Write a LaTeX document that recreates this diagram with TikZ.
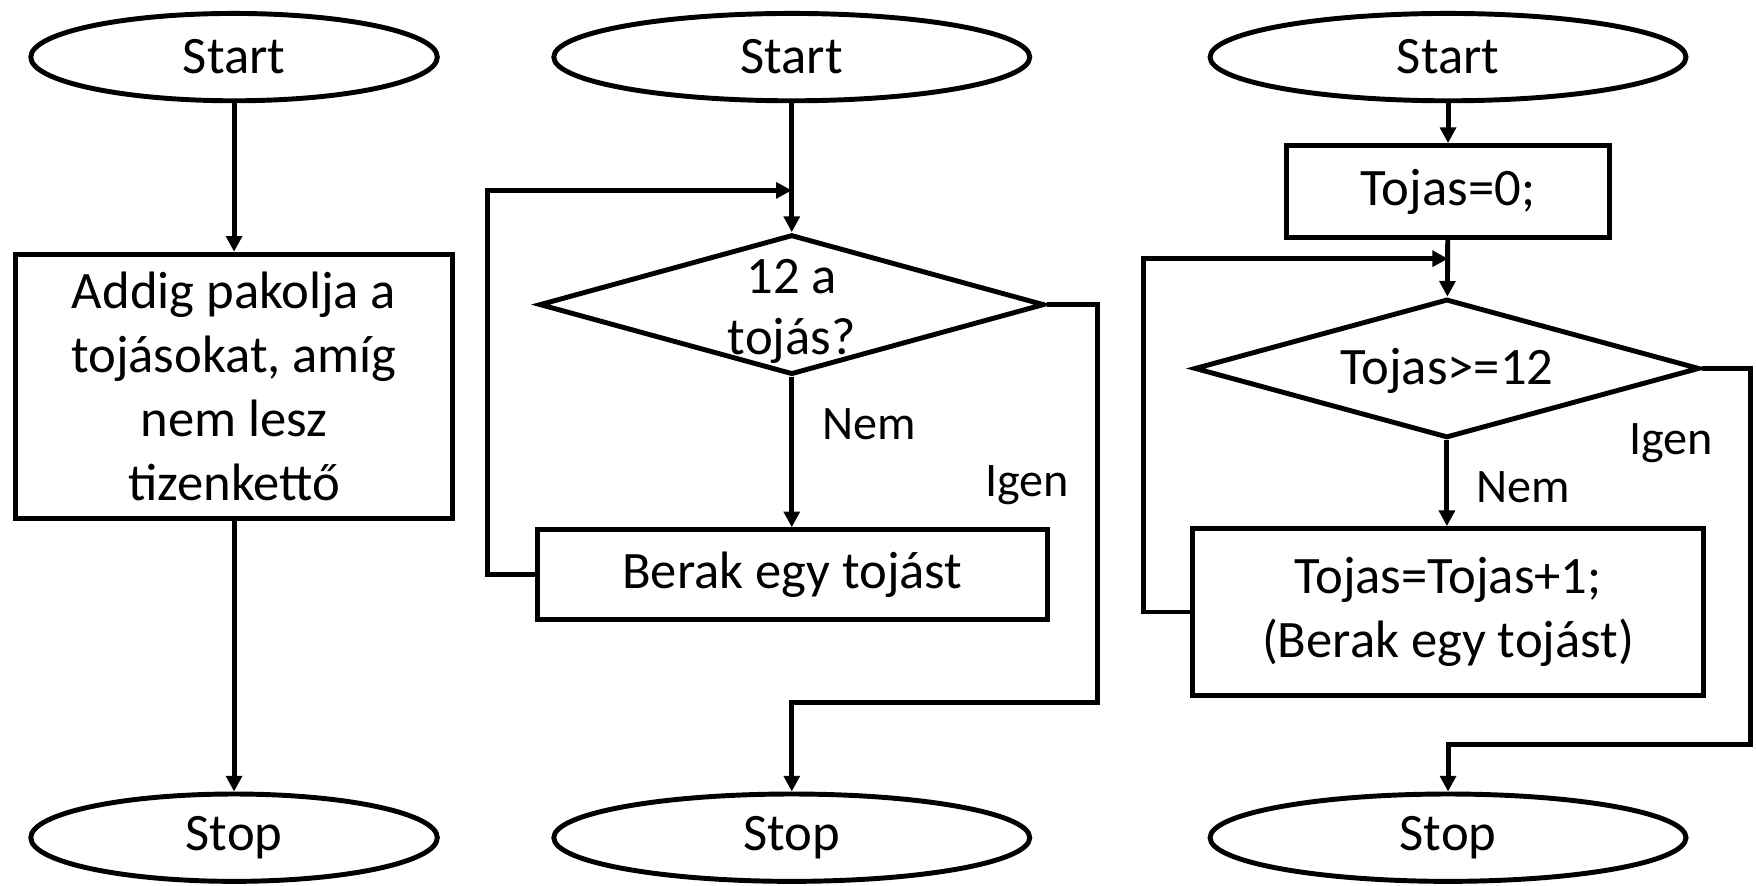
\documentclass[tikz,border=0pt]{standalone}
\usepackage{fontspec}
\setmainfont{Carlito}
\usetikzlibrary{shapes.geometric,arrows.meta}
\begin{document}
\begin{tikzpicture}[x=0.5pt,y=-0.5pt,
  term/.style={ellipse, draw, line width=2.2pt, minimum width=181.5pt, minimum height=39pt, inner sep=0pt, font=\fontsize{23.5}{28.5}\selectfont},
  wterm/.style={term, minimum width=212.5pt},
  proc/.style={rectangle, draw, line width=2.2pt, inner sep=0pt, align=center, font=\fontsize{23.5}{28.5}\selectfont},
  dec/.style={diamond, draw, line width=2.2pt, inner sep=0pt},
  txt/.style={align=center, inner sep=0pt, font=\fontsize{23.5}{27.5}\selectfont},
  lbl/.style={inner sep=0pt, font=\fontsize{21.5}{25}\selectfont},
  conn/.style={line width=2.2pt, -{Triangle[width=7pt,length=7pt]}}]
\useasboundingbox (0,0) rectangle (1568,791);
% column 1
\node[term] (s1) at (209,51) {Start};
\node[proc, minimum width=195pt, minimum height=118pt] (b1) at (209,345) {Addig pakolja a\\tojásokat, amíg\\nem lesz\\tizenkettő};
\node[term] (e1) at (209,748) {Stop};
\draw[conn] (s1) -- (b1);
\draw[conn] (b1) -- (e1);
% column 2
\node[wterm] (s2) at (707,51) {Start};
\node[dec, minimum width=225.5pt, minimum height=62.5pt] (d2) at (707,272) {};
\node[txt] (t2) at (707,278) {12 a\\tojás?};
\node[proc, minimum width=227.5pt, minimum height=40pt] (b2) at (707.5,513) {Berak egy tojást};
\node[wterm] (e2) at (707,748) {Stop};
\coordinate (j2) at (707,170);
\coordinate (l2) at (435,170);
\coordinate (r2) at (980,627);
\draw[conn] (s2) -- (d2);
\draw[conn] (d2.south) -- (d2.south |- b2.north);
\draw[conn] (b2.west) -| (l2) -- (j2);
\draw[conn] (d2.east) -| (r2) -| (e2.north);
\node[lbl] (n2) at (776,379) {Nem};
\node[lbl] (i2) at (917,433) {Igen};
% column 3
\node[wterm] (s3) at (1293,51) {Start};
\node[proc, minimum width=144pt, minimum height=41pt] (b3a) at (1293,171) {Tojas=0;};
\node[dec, minimum width=225.5pt, minimum height=62pt] (d3) at (1292,329) {};
\node[txt] (t3) at (1292,331) {Tojas>=12};
\node[proc, minimum width=228pt, minimum height=74.5pt] (b3b) at (1293,546.5) {Tojas=Tojas+1;\\(Berak egy tojást)};
\node[wterm] (e3) at (1293,748) {Stop};
\coordinate (j3) at (1293,231);
\coordinate (l3) at (1021,231);
\coordinate (r3) at (1563,665);
\draw[conn] (s3) -- (b3a);
\draw[conn] (b3a) -- (d3);
\draw[conn] (d3.south) -- (d3.south |- b3b.north);
\draw[conn] (b3b.west) -| (l3) -- (j3);
\draw[conn] (d3.east) -| (r3) -| (e3.north);
\node[lbl] (n3) at (1360,435) {Nem};
\node[lbl] (i3) at (1492,396) {Igen};
\end{tikzpicture}
\end{document}
